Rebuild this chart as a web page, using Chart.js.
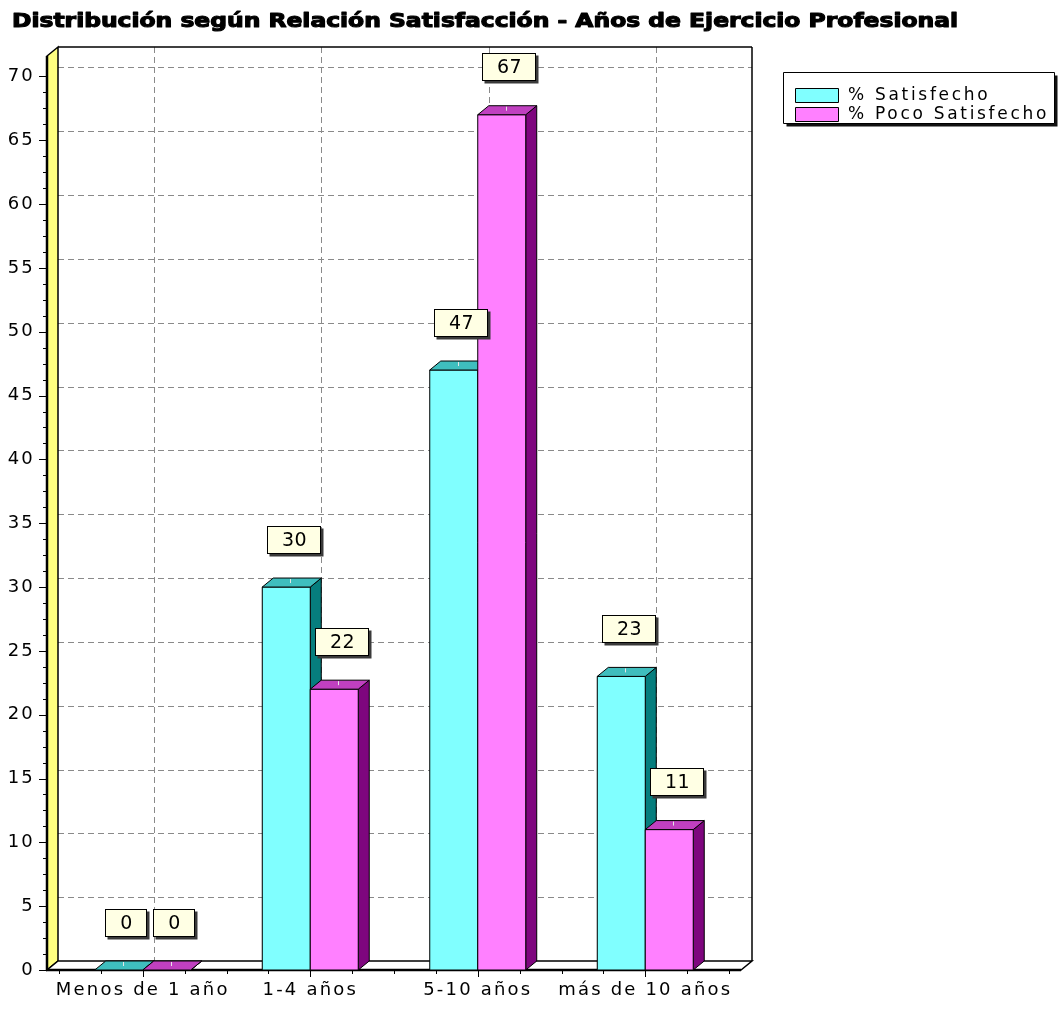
<!DOCTYPE html>
<html>
<head>
<meta charset="utf-8">
<script src="https://cdn.jsdelivr.net/npm/chart.js@4.4.0/dist/chart.umd.min.js"></script>
<style>
  html, body { margin: 0; padding: 0; background: #ffffff; }
  #wrap { width: 1064px; height: 1009px; }
</style>
</head>
<body>
<div id="wrap"><canvas id="c" width="1064" height="1009"></canvas></div>
<script>
// ---- data ----
const chartTitle = 'Distribución según Relación Satisfacción - Años de Ejercicio Profesional';
const categories = ['Menos de 1 año', '1-4 años', '5-10 años', 'más de 10 años'];
const satisfecho = [0, 30, 47, 23];
const pocoSatisfecho = [0, 22, 67, 11];
const seriesNames = ['% Satisfecho', '% Poco Satisfecho'];
const yTicks = [0, 5, 10, 15, 20, 25, 30, 35, 40, 45, 50, 55, 60, 65, 70];

// ---- styling ----
const frontColors = ['#80FFFF', '#FF80FF'];
const topColors = ['#3FBEBE', '#C040C0'];
const sideColors = ['#067E7E', '#7E067E'];
const DX = 11, DY = 9;          // depth of the 3D box (right / up)
const FRAME_EXT = 12;           // frame reaches past the category band
const FONT = '"DejaVu Sans", Verdana, sans-serif';
const TICK_SPACING = '2.2px';

function poly(ctx, pts, fill, stroke, lw) {
  ctx.beginPath();
  ctx.moveTo(pts[0][0], pts[0][1]);
  for (let i = 1; i < pts.length; i++) ctx.lineTo(pts[i][0], pts[i][1]);
  ctx.closePath();
  if (fill) { ctx.fillStyle = fill; ctx.fill(); }
  if (stroke) { ctx.strokeStyle = stroke; ctx.lineWidth = lw || 1; ctx.stroke(); }
}
function line(ctx, x1, y1, x2, y2) {
  ctx.beginPath(); ctx.moveTo(x1, y1); ctx.lineTo(x2, y2); ctx.stroke();
}

const box3d = {
  id: 'box3d',
  beforeDraw(chart) {
    chart.ctx.letterSpacing = TICK_SPACING;
  },
  beforeDatasetsDraw(chart) {
    const { ctx, chartArea: a, scales: { x, y } } = chart;
    const L = a.left - FRAME_EXT, R = a.right + FRAME_EXT, T = a.top, B = a.bottom;
    ctx.save();
    ctx.letterSpacing = '0px';
    // dashed grid on the back wall
    ctx.strokeStyle = '#8a8a8a';
    ctx.lineWidth = 1;
    ctx.setLineDash([6, 4]);
    yTicks.forEach(v => {
      if (v === 0) return;
      const py = Math.round(y.getPixelForValue(v) - DY) + 0.5;
      line(ctx, L + DX, py, R + DX, py);
    });
    categories.forEach((c, i) => {
      const px = Math.round(x.getPixelForValue(i) + DX) + 0.5;
      line(ctx, px, T - DY, px, B - DY);
    });
    ctx.setLineDash([]);
    // back wall border
    ctx.strokeStyle = '#000';
    ctx.lineWidth = 1.5;
    line(ctx, L + DX, T - DY, R + DX, T - DY);
    line(ctx, R + DX, T - DY, R + DX, B - DY);
    // left wall
    poly(ctx, [[L, B], [L, T], [L + DX, T - DY], [L + DX, B - DY]], '#FFFF80', '#000', 1.5);
    // floor
    poly(ctx, [[L, B], [R, B], [R + DX, B - DY], [L + DX, B - DY]], '#ffffff', '#000', 1.5);
    ctx.lineWidth = 2.5;
    line(ctx, L - 1, B, R, B);
    line(ctx, L, T, L, B);
    // y tick marks, major every step and minor every quarter step
    ctx.lineWidth = 1;
    const step = yTicks[1] - yTicks[0];
    yTicks.forEach((v, idx) => {
      const py = Math.round(y.getPixelForValue(v)) + 0.5;
      line(ctx, L - 8, py, L, py);
      if (idx < yTicks.length - 1) {
        for (let q = 1; q < 4; q++) {
          const pm = Math.round(y.getPixelForValue(v + q * step / 4)) + 0.5;
          line(ctx, L - 4, pm, L, pm);
        }
      }
    });
    // x tick marks
    const n = categories.length * 4;
    for (let k = 0; k <= n; k++) {
      const px = Math.round(a.left + k * (a.right - a.left) / n) + 0.5;
      line(ctx, px, B, px, B + (k % 4 === 2 ? 7 : 4));
    }
    ctx.restore();
  },
  afterDatasetsDraw(chart) {
    const { ctx } = chart;
    const metas = [chart.getDatasetMeta(0), chart.getDatasetMeta(1)];
    ctx.save();
    // draw bars category by category so each later bar covers the earlier one's side
    categories.forEach((c, i) => {
      metas.forEach((meta, d) => {
        const el = meta.data[i];
        const l = el.x - el.width / 2, r = el.x + el.width / 2, t = el.y, b = el.base;
        // side face
        poly(ctx, [[r, t], [r + DX, t - DY], [r + DX, b - DY], [r, b]], sideColors[d], '#000', 1);
        // front face
        if (b - t > 0) poly(ctx, [[l, t], [r, t], [r, b], [l, b]], frontColors[d], '#000', 1);
        // top face
        poly(ctx, [[l, t], [l + DX, t - DY], [r + DX, t - DY], [r, t]], topColors[d], '#000', 1);
        ctx.strokeStyle = '#e6e6e6';
        ctx.lineWidth = 1;
        line(ctx, Math.round(el.x + 4) + 0.5, t - DY + 1, Math.round(el.x + 4) + 0.5, t - 4);
      });
    });
    // value boxes
    ctx.font = '19px ' + FONT;
    ctx.letterSpacing = '0.5px';
    ctx.textAlign = 'center';
    ctx.textBaseline = 'middle';
    metas.forEach((meta, d) => {
      const values = chart.data.datasets[d].data;
      meta.data.forEach((el, i) => {
        const txt = String(values[i]);
        const w = Math.round(ctx.measureText(txt).width + 28);
        const h = 27;
        const cx = el.x + 7;
        const bottom = el.y - DY - 25.5;
        const bx = Math.round(cx - w / 2) + 0.5, by = Math.round(bottom - h) + 0.5;
        ctx.fillStyle = '#3a3a3a';
        ctx.fillRect(bx + 2, by + 2, w + 1, h + 1);
        ctx.fillStyle = '#FFFFE4';
        ctx.fillRect(bx, by, w, h);
        ctx.strokeStyle = '#000';
        ctx.lineWidth = 1;
        ctx.strokeRect(bx, by, w, h);
        ctx.fillStyle = '#000';
        ctx.fillText(txt, bx + w / 2 + 0.5, by + h / 2 + 1);
      });
    });
    ctx.restore();
  },
  afterDraw(chart) {
    const { ctx } = chart;
    ctx.save();
    // title, stretched to span its full line
    ctx.font = 'bold 19px ' + FONT;
    ctx.letterSpacing = '0px';
    const w0 = ctx.measureText(chartTitle).width;
    const sx = 946 / w0;
    ctx.translate(12, 27);
    ctx.scale(sx, 1);
    ctx.textAlign = 'left';
    ctx.textBaseline = 'alphabetic';
    ctx.fillStyle = '#000';
    ctx.strokeStyle = '#000';
    ctx.lineWidth = 1.1;
    ctx.lineJoin = 'round';
    ctx.fillText(chartTitle, 0, 0);
    ctx.strokeText(chartTitle, 0, 0);
    ctx.setTransform(1, 0, 0, 1, 0, 0);
    // legend
    const lx = 783.5, ly = 72.5, lw = 271, lh = 51;
    ctx.fillStyle = '#111';
    ctx.fillRect(lx + 3, ly + 3, lw, lh);
    ctx.fillStyle = '#fff';
    ctx.fillRect(lx, ly, lw, lh);
    ctx.strokeStyle = '#000';
    ctx.lineWidth = 1;
    ctx.strokeRect(lx, ly, lw, lh);
    ctx.font = '17px ' + FONT;
    ctx.letterSpacing = '2.7px';
    ctx.textBaseline = 'middle';
    chart.data.datasets.forEach((ds, d) => {
      const sy = 88.5 + d * 19;
      ctx.fillStyle = frontColors[d];
      ctx.fillRect(795.5, sy, 43, 14);
      ctx.strokeStyle = '#000';
      ctx.strokeRect(795.5, sy, 43, 14);
      ctx.fillStyle = '#000';
      ctx.fillText(ds.label, 848, sy + 7.5);
    });
    ctx.restore();
  }
};

new Chart(document.getElementById('c'), {
  type: 'bar',
  data: {
    labels: categories,
    datasets: [
      { label: seriesNames[0], data: satisfecho, backgroundColor: frontColors[0], borderColor: '#000', borderWidth: 1 },
      { label: seriesNames[1], data: pocoSatisfecho, backgroundColor: frontColors[1], borderColor: '#000', borderWidth: 1 }
    ]
  },
  options: {
    responsive: false,
    devicePixelRatio: 1,
    animation: false,
    layout: { padding: { left: 0, top: 56, right: 335, bottom: 0 } },
    datasets: { bar: { categoryPercentage: 0.573, barPercentage: 1 } },
    plugins: { legend: { display: false }, title: { display: false }, tooltip: { enabled: false } },
    scales: {
      x: {
        type: 'category',
        grid: { display: false },
        border: { display: false },
        ticks: { color: '#000', font: { family: FONT, size: 18 }, padding: 2, maxRotation: 0, autoSkip: false },
        afterFit(scale) { scale.height = 39; }
      },
      y: {
        min: 0,
        max: 71.6,
        grid: { display: false },
        border: { display: false },
        afterBuildTicks(scale) { scale.ticks = yTicks.map(v => ({ value: v })); },
        ticks: { color: '#000', font: { family: FONT, size: 18 }, padding: 16 },
        afterFit(scale) { scale.width = 59; }
      }
    }
  },
  plugins: [box3d]
});
</script>
</body>
</html>
